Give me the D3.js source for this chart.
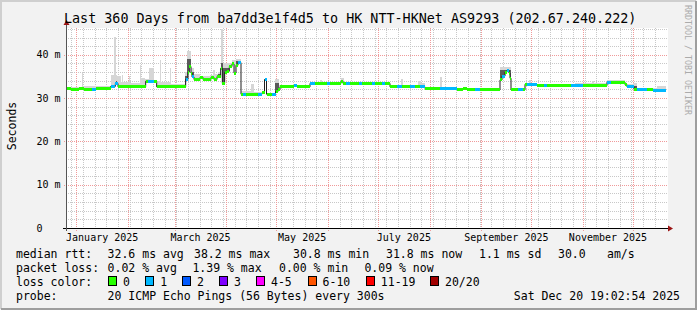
<!DOCTYPE html>
<html>
<head>
<meta charset="utf-8">
<script src="https://cdn.jsdelivr.net/npm/d3@7"></script>
<style>
  body { margin: 0; background: #f2f2f2; }
  svg { display: block; font-family: "DejaVu Sans Mono", monospace; }
</style>
</head>
<body>
<svg id="chart" width="697" height="310"></svg>
<script>
// graph covers the last 360 days up to the time stamp in the legend
const endTime = Date.UTC(2025, 11, 20, 19, 2, 54);
const startTime = endTime - 360 * 86400000;

// median rtt as steps: start day (from startTime), value in ms, loss class
const medianDay = [0, 2.8, 7.8, 10.8, 15.6, 17.8, 26.8, 29.6, 31.2, 47.8,
  49.2, 52.8, 54.4, 71.8, 73.2, 74.0, 75.0, 75.6, 76.8, 80.4,
  82.2, 87.0, 88.8, 90.6, 92.8, 93.8, 95.2, 96.6, 98.0, 99.6,
  100.8, 102.0, 103.2, 105.0, 106.2, 108.0, 115.2, 117.6, 119.1, 120.3,
  123.6, 125.7, 127.2, 128.4, 136.8, 138.6, 146.4, 149.4, 156.6, 158.4,
  165.0, 166.2, 168.0, 170.4, 175.8, 177.6, 183.6, 185.4, 189.6, 191.4,
  194.4, 198.6, 201.6, 206.4, 209.4, 212.4, 215.4, 224.4, 234.6, 238.2,
  240.6, 245.4, 248.4, 260.4, 261.6, 263.4, 264.6, 265.8, 266.4, 267.0,
  271.2, 274.2, 275.4, 276.6, 282.6, 286.8, 288.6, 303.0, 310.2, 324.6,
  327.0, 335.4, 336.6, 340.8, 342.6, 348.6, 352.2];
const medianMs = [32.2, 31.9, 32.2, 31.9, 31.9, 32.2, 32.7, 33.4, 32.6, 33.9,
  33.9, 33.9, 32.6, 34.3, 36.0, 37.3, 35.8, 34.9, 34.3, 34.8,
  34.3, 34.8, 34.3, 35.0, 36.9, 33.4, 35.9, 36.2, 37.3, 37.9,
  35.8, 37.6, 38.2, 30.9, 30.8, 30.9, 30.9, 31.2, 34.3, 30.9,
  30.9, 31.5, 32.0, 32.6, 33.0, 32.6, 33.4, 33.4, 33.4, 33.4,
  33.9, 33.4, 33.4, 33.4, 33.4, 33.4, 33.4, 33.4, 33.4, 33.4,
  32.6, 32.6, 32.6, 32.6, 32.6, 32.6, 32.2, 32.2, 31.9, 32.2,
  31.9, 31.9, 31.9, 34.2, 35.1, 36.0, 36.4, 35.8, 34.6, 31.9,
  31.9, 31.9, 33.2, 33.2, 32.9, 32.9, 32.9, 32.9, 32.9, 33.7,
  33.7, 33.1, 32.6, 32.0, 32.0, 31.9, 31.8];
const medianLoss = [0, 0, 0, 0, 1, 0, 1, 1, 0, 0,
  1, 0, 0, 1, 0, 0, 0, 1, 0, 0,
  0, 0, 0, 0, 0, 0, 0, 0, 0, 0,
  0, 0, 1, 0, 1, 0, 1, 0, 1, 0,
  1, 0, 0, 0, 1, 0, 1, 0, 1, 0,
  0, 0, 1, 0, 1, 0, 1, 0, 1, 0,
  0, 1, 0, 1, 0, 1, 0, 1, 0, 0,
  0, 1, 0, 0, 1, 0, 1, 0, 0, 0,
  1, 0, 0, 1, 0, 1, 0, 1, 0, 1,
  0, 0, 1, 0, 1, 0, 1];

// smoke (spread of the 20 pings): start day, highest ping ms, dark core ms (0 = none)
const smokeDay = [0, 2.4, 9.6, 10.2, 17.4, 26.8, 28.8, 29.8, 30.6, 32.8,
  33.6, 34.2, 37.8, 38.4, 44.6, 45.2, 47.4, 49.8, 52.8, 56.6,
  57.2, 62.6, 63.2, 71.4, 72.6, 75.0, 76.8, 80.4, 86.4, 88.2,
  89.4, 91.2, 93.0, 94.2, 99.6, 102.0, 105.0, 111.0, 112.8, 118.8,
  120.0, 125.4, 127.8, 146.4, 152.4, 153.6, 165.0, 166.8, 194.4, 201.0,
  202.2, 211.2, 213.0, 215.4, 224.4, 225.6, 234.6, 260.4, 267.0, 275.4,
  277.8, 279.0, 282.6, 305.4, 315.6, 316.8, 324.6, 335.4, 340.2, 342.6,
  354.6];
const smokeHi = [32.3, 32.6, 35.7, 32.7, 32.8, 35.3, 44.2, 35.3, 35.0, 33.7,
  35.3, 33.7, 35.0, 33.6, 37.6, 34.6, 34.5, 37.0, 34.0, 38.8,
  33.8, 36.9, 33.2, 36.0, 41.0, 37.0, 35.5, 35.2, 35.4, 36.5,
  35.5, 36.1, 46.0, 38.0, 38.8, 39.0, 31.6, 33.2, 31.4, 34.5,
  31.3, 34.4, 33.1, 33.8, 34.3, 33.8, 34.6, 33.8, 33.0, 34.4,
  33.0, 33.9, 33.4, 32.6, 34.9, 32.6, 32.3, 37.2, 32.2, 33.6,
  34.2, 33.6, 33.3, 33.5, 34.0, 33.5, 34.2, 33.3, 33.6, 32.3,
  32.9];
const smokeDark = [0, 0, 0, 0, 0, 0, 0, 34.0, 0, 0,
  0, 0, 0, 0, 0, 0, 0, 0, 0, 0,
  0, 0, 0, 35.0, 39.0, 36.0, 0, 0, 0, 0,
  0, 35.6, 38.0, 37.0, 0, 38.6, 0, 0, 0, 0,
  0, 33.5, 0, 0, 0, 0, 0, 0, 0, 0,
  0, 0, 0, 0, 0, 0, 0, 36.6, 0, 0,
  0, 0, 0, 0, 0, 0, 0, 0, 32.8, 0,
  0];

const yTicks = [0, 10, 20, 30, 40];
const yTickLabels = ["0", "10 m", "20 m", "30 m", "40 m"];
const monthLabels = ["January 2025", "March 2025", "May 2025", "July 2025", "September 2025", "November 2025"];

const lossLabels = ["0", "1", "2", "3", "4-5", "6-10", "11-19", "20/20"];
const lossColors = ["#26ff00", "#00b8ff", "#0059ff", "#7e00ff", "#ff00ff", "#ff5500", "#ff0000", "#a10000"];

const rttStats = ["32.6 ms avg", "38.2 ms max", "30.8 ms min", "31.8 ms now", "1.1 ms sd", "30.0", "am/s"];
const lossStats = ["0.02 % avg", "1.39 % max", "0.00 % min", "0.09 % now"];

const title = "Last 360 Days from ba7dd3e1f4d5 to HK NTT-HKNet AS9293 (202.67.240.222)";
const probeText = "20 ICMP Echo Pings (56 Bytes) every 300s";
const stampText = "Sat Dec 20 19:02:54 2025";

const svg = d3.select("#chart");
const W = 697, H = 310;
const pLeft = 66, pRight = 666, pTop = 28, pBottom = 228;

const dayTime = d => new Date(startTime + d * 86400000);
const x = d3.scaleUtc().domain([new Date(startTime), new Date(endTime)]).range([pLeft, pRight]);
const y = d3.scaleLinear().domain([0, 46.2]).range([pBottom, pTop]);

// frame and canvas
svg.append("rect").attr("width", W).attr("height", H).attr("fill", "#f2f2f2");
svg.append("path").attr("d", `M1,${H - 1} V1 H${W - 1}`).attr("fill", "none")
  .attr("stroke", "#cfcfcf").attr("stroke-width", 2);
svg.append("path").attr("d", `M1,${H - 1} H${W - 1} V1`).attr("fill", "none")
  .attr("stroke", "#9e9e9e").attr("stroke-width", 2);
svg.append("rect").attr("x", pLeft).attr("y", pTop).attr("width", pRight - pLeft + 2).attr("height", pBottom - pTop)
  .attr("fill", "#ffffff");

// grid
const grid = svg.append("g").attr("shape-rendering", "crispEdges");
const minorY = d3.range(2, 47, 2).filter(v => v % 10 !== 0);
grid.selectAll(".gy").data(minorY).join("line")
  .attr("x1", pLeft).attr("x2", pRight + 2)
  .attr("y1", d => Math.round(y(d)) + 0.5).attr("y2", d => Math.round(y(d)) + 0.5)
  .attr("stroke", "#c8c8c8").attr("stroke-dasharray", "1,1");
const weeks = d3.utcSunday.range(new Date(startTime), new Date(endTime));
grid.selectAll(".gx").data(weeks).join("line")
  .attr("x1", d => Math.round(x(d)) + 0.5).attr("x2", d => Math.round(x(d)) + 0.5)
  .attr("y1", pTop).attr("y2", pBottom + 2)
  .attr("stroke", "#c8c8c8").attr("stroke-dasharray", "1,1");
grid.selectAll(".my").data(yTicks.filter(v => v > 0)).join("line")
  .attr("x1", pLeft - 2).attr("x2", pRight + 2)
  .attr("y1", d => Math.round(y(d)) + 0.5).attr("y2", d => Math.round(y(d)) + 0.5)
  .attr("stroke", "#f09a9a").attr("stroke-dasharray", "1,1");
const months = d3.utcMonth.range(new Date(startTime), new Date(endTime));
grid.selectAll(".mx").data(months).join("line")
  .attr("x1", d => Math.round(x(d)) + 0.5).attr("x2", d => Math.round(x(d)) + 0.5)
  .attr("y1", pTop).attr("y2", pBottom + 3)
  .attr("stroke", "#f09a9a").attr("stroke-dasharray", "1,1");

// step lookups
const stepAt = (days, vals, d) => vals[Math.max(0, d3.bisectRight(days, d) - 1)];

// smoke, drawn piecewise above the median
const cuts = Array.from(new Set(medianDay.concat(smokeDay))).sort((a, b) => a - b);
cuts.push(360);
const pieces = d3.pairs(cuts).map(([a, b]) => ({
  a, b,
  med: stepAt(medianDay, medianMs, a),
  hi: stepAt(smokeDay, smokeHi, a),
  dark: stepAt(smokeDay, smokeDark, a)
}));
const smoke = svg.append("g").attr("shape-rendering", "crispEdges");
smoke.selectAll(".sl").data(pieces.filter(p => p.hi > p.med)).join("rect")
  .attr("x", p => x(dayTime(p.a))).attr("width", p => x(dayTime(p.b)) - x(dayTime(p.a)))
  .attr("y", p => y(p.hi)).attr("height", p => y(p.med) - y(p.hi))
  .attr("fill", "#d6d6d6");
smoke.selectAll(".sd").data(pieces.filter(p => p.dark > p.med)).join("rect")
  .attr("x", p => x(dayTime(p.a))).attr("width", p => x(dayTime(p.b)) - x(dayTime(p.a)))
  .attr("y", p => y(p.dark)).attr("height", p => y(p.med) - y(p.dark))
  .attr("fill", "#5a5a5a");

// thin dark median line
const medPts = medianDay.map((d, i) => [d, medianMs[i]]);
medPts.push([360, medianMs[medianMs.length - 1]]);
svg.append("path")
  .attr("d", d3.line().x(p => x(dayTime(p[0]))).y(p => y(p[1])).curve(d3.curveStepAfter)(medPts))
  .attr("fill", "none").attr("stroke", "#202020").attr("stroke-width", 1);

// loss coloured band on the median
const segEnd = medianDay.slice(1).concat([360]);
svg.append("g").attr("shape-rendering", "crispEdges")
  .selectAll("rect").data(medianDay).join("rect")
  .attr("x", (d, i) => x(dayTime(d)))
  .attr("width", (d, i) => x(dayTime(segEnd[i])) - x(dayTime(d)))
  .attr("y", (d, i) => y(medianMs[i]) - 1.5).attr("height", 3)
  .attr("fill", (d, i) => lossColors[medianLoss[i]]);

// axes with arrows
svg.append("line").attr("x1", pLeft - 3).attr("x2", pRight + 3).attr("y1", pBottom + 0.5).attr("y2", pBottom + 0.5)
  .attr("stroke", "#000");
svg.append("line").attr("x1", pLeft + 0.5).attr("x2", pLeft + 0.5).attr("y1", pBottom + 3).attr("y2", pTop - 4)
  .attr("stroke", "#555");
svg.append("path").attr("d", `M${pRight + 2},${pBottom - 2.5} L${pRight + 7},${pBottom + 0.5} L${pRight + 2},${pBottom + 3.5} Z`)
  .attr("fill", "#9b1414");
svg.append("path").attr("d", `M${pLeft - 2.5},${pTop - 3} L${pLeft + 0.5},${pTop - 8} L${pLeft + 3.5},${pTop - 3} Z`)
  .attr("fill", "#9b1414");

// tick labels
svg.append("g").selectAll("text").data(yTicks).join("text")
  .attr("x", 36.5).attr("y", d => y(d) + 3.5)
  .attr("font-size", 10).attr("fill", "#000")
  .text((d, i) => yTickLabels[i]);
const parseMonth = d3.utcParse("%B %Y");
svg.append("g").selectAll("text").data(monthLabels).join("text")
  .attr("x", d => {
    const m = parseMonth(d);
    return x(new Date((+m + +d3.utcMonth.offset(m, 1)) / 2));
  })
  .attr("y", 241).attr("text-anchor", "middle")
  .attr("font-size", 10).attr("fill", "#000")
  .text(d => d);

// titles
svg.append("text").attr("x", 64).attr("y", 23)
  .attr("font-size", 13.4).attr("fill", "#000").text(title);
svg.append("text").attr("transform", "translate(15.5,126) rotate(-90)").attr("text-anchor", "middle")
  .attr("font-size", 11.5).attr("fill", "#000").text("Seconds");
svg.append("text").attr("transform", "translate(684.5,5) rotate(90)")
  .attr("font-size", 8.3).attr("fill", "#ababab").text("RRDTOOL / TOBI OETIKER");

// legend
const lg = svg.append("g").attr("font-size", 11.5).attr("fill", "#000");
const rowY = [258, 272, 286, 300];
lg.append("text").attr("x", 16).attr("y", rowY[0]).text("median rtt:");
const rttX = [107.6, 194, 293, 386, 479, 558, 607];
lg.selectAll(".rs").data(rttStats).join("text").attr("class", "rs")
  .attr("x", (d, i) => rttX[i]).attr("y", rowY[0]).text(d => d);
lg.append("text").attr("x", 16).attr("y", rowY[1]).text("packet loss:");
const lossX = [107.6, 192.4, 279, 364.4];
lg.selectAll(".ls").data(lossStats).join("text").attr("class", "ls")
  .attr("x", (d, i) => lossX[i]).attr("y", rowY[1]).text(d => d);
lg.append("text").attr("x", 16).attr("y", rowY[2]).text("loss color:");
const boxX = [108, 145.3, 182, 219, 256, 307.6, 365.8, 430];
lg.selectAll(".lb").data(lossLabels).join("rect").attr("class", "lb")
  .attr("x", (d, i) => boxX[i] + 0.5).attr("y", rowY[2] - 9.5).attr("width", 8).attr("height", 9)
  .attr("fill", (d, i) => lossColors[i]).attr("stroke", "#000").attr("stroke-width", 1)
  .attr("shape-rendering", "crispEdges");
lg.selectAll(".ll").data(lossLabels).join("text").attr("class", "ll")
  .attr("x", (d, i) => boxX[i] + 15).attr("y", rowY[2]).text(d => d);
lg.append("text").attr("x", 16).attr("y", rowY[3]).text("probe:");
lg.append("text").attr("x", 107.6).attr("y", rowY[3]).text(probeText);
lg.append("text").attr("x", 680).attr("y", rowY[3]).attr("text-anchor", "end").text(stampText);
</script>
</body>
</html>
